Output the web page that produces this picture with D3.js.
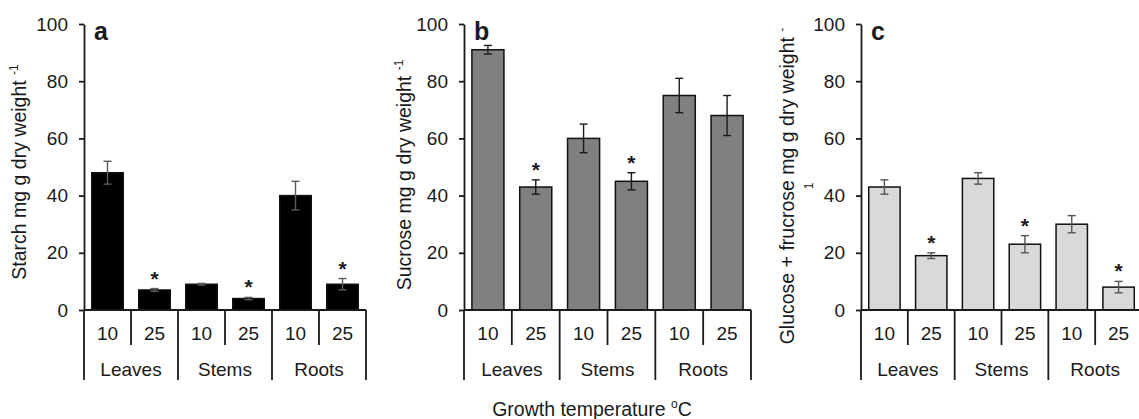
<!DOCTYPE html>
<html>
<head>
<meta charset="utf-8">
<script src="https://cdn.jsdelivr.net/npm/d3@7.9.0/dist/d3.min.js"></script>
<style>
  body { margin: 0; background: #fff; }
  svg text { font-family: "Liberation Sans", Arial, sans-serif; fill: #1a1a1a; }
</style>
</head>
<body>
<svg id="chart" width="1139" height="419"></svg>
<script>
// data
const organs = ['Leaves', 'Stems', 'Roots'];
const temps = ['10', '25'];
const yTicks = [0, 20, 40, 60, 80, 100];

const starchMeans = [48, 7, 9, 4, 40, 9];
const starchErrors = [4, 0.5, 0.3, 0.4, 5, 2];
const starchStars = [false, true, false, true, false, true];

const sucroseMeans = [91, 43, 60, 45, 75, 68];
const sucroseErrors = [1.5, 2.5, 5, 3, 6, 7];
const sucroseStars = [false, true, false, true, false, false];

const hexoseMeans = [43, 19, 46, 23, 30, 8];
const hexoseErrors = [2.5, 1, 2, 3, 3, 2];
const hexoseStars = [false, true, false, true, false, true];

const svg = d3.select('#chart');
const yTop = 24, yBottom = 310;
const y = d3.scaleLinear().domain([0, 100]).range([yBottom, yTop]);

// one band per organ/temperature pair
let keys = [];
organs.forEach(o => temps.forEach(t => keys.push(o + '-' + t)));

function drawPanel(p) {
  let g = svg.append('g');
  let x = d3.scaleBand().domain(keys).range([p.x0, p.x1])
    .paddingInner(0.33).paddingOuter(0.165);
  let step = x.step();

  // bars
  g.selectAll('rect.bar')
    .data(p.means)
    .join('rect')
    .attr('x', (d, i) => x(keys[i]))
    .attr('y', d => y(d))
    .attr('width', x.bandwidth())
    .attr('height', d => y(0) - y(d))
    .attr('fill', p.fill)
    .attr('stroke', '#111')
    .attr('stroke-width', 1.5);

  // error bars
  p.means.forEach((m, i) => {
    let cx = x(keys[i]) + x.bandwidth() / 2;
    let e = p.errors[i];
    let eg = g.append('g').attr('stroke', p.errColor).attr('stroke-width', 1.4);
    eg.append('line').attr('x1', cx).attr('x2', cx).attr('y1', y(m - e)).attr('y2', y(m + e));
    eg.append('line').attr('x1', cx - 4).attr('x2', cx + 4).attr('y1', y(m - e)).attr('y2', y(m - e));
    eg.append('line').attr('x1', cx - 4).attr('x2', cx + 4).attr('y1', y(m + e)).attr('y2', y(m + e));
    if (p.stars[i]) {
      g.append('text')
        .attr('x', cx).attr('y', y(m + e) - 3)
        .attr('text-anchor', 'middle')
        .attr('font-size', 21)
        .attr('font-weight', 'bold')
        .text('*');
    }
  });

  // y axis
  let yAxis = g.append('g')
    .attr('transform', `translate(${p.x0},0)`)
    .call(d3.axisLeft(y).tickValues(yTicks).tickSize(5).tickSizeOuter(0).tickPadding(11));
  yAxis.selectAll('path, line').attr('stroke', '#1a1a1a').attr('stroke-width', 1.8);
  yAxis.selectAll('text').attr('font-size', 19).attr('font-family', '"Liberation Sans", Arial, sans-serif').attr('fill', '#1a1a1a');

  // x axis baseline and category dividers
  let lines = g.append('g').attr('stroke', '#1a1a1a').attr('stroke-width', 1.8);
  lines.append('line').attr('x1', p.x0).attr('x2', p.x1).attr('y1', yBottom).attr('y2', yBottom);
  for (let i = 0; i <= keys.length; i++) {
    let bx = p.x0 + i * step;
    let bottom = i % 2 === 0 ? 380 : 345;
    lines.append('line').attr('x1', bx).attr('x2', bx).attr('y1', yBottom).attr('y2', bottom);
  }

  // temperature labels
  keys.forEach((k, i) => {
    g.append('text')
      .attr('x', x(k) + x.bandwidth() / 2).attr('y', 340)
      .attr('text-anchor', 'middle').attr('font-size', 19)
      .text(temps[i % 2]);
  });
  // organ labels
  organs.forEach((o, j) => {
    g.append('text')
      .attr('x', p.x0 + step * (2 * j + 1)).attr('y', 376)
      .attr('text-anchor', 'middle').attr('font-size', 19)
      .text(o);
  });

  // panel letter
  g.append('text')
    .attr('x', p.x0 + 10).attr('y', 40)
    .attr('font-size', 25).attr('font-weight', 'bold')
    .text(p.letter);

  // y label
  let lab = g.append('text')
    .attr('transform', `translate(${p.labelX},${p.labelY}) rotate(-90)`)
    .attr('text-anchor', 'middle')
    .attr('dy', '0.35em')
    .attr('font-size', 19.5);
  lab.append('tspan').text(p.label + ' ');
  lab.append('tspan').attr('font-size', 12).attr('dy', -8).text(p.sup);
  if (p.secondLine) {
    g.append('text')
      .attr('transform', `translate(${p.labelX + 22},${p.labelY}) rotate(-90)`)
      .attr('text-anchor', 'middle')
      .attr('dy', '0.35em')
      .attr('font-size', 12)
      .text(p.secondLine);
  }
}

drawPanel({
  x0: 84, x1: 366, letter: 'a', fill: '#000', errColor: '#5a5a5a',
  means: starchMeans, errors: starchErrors, stars: starchStars,
  label: 'Starch mg g dry weight', sup: '-1', labelX: 19, labelY: 172
});
drawPanel({
  x0: 464, x1: 751, letter: 'b', fill: '#808080', errColor: '#1a1a1a',
  means: sucroseMeans, errors: sucroseErrors, stars: sucroseStars,
  label: 'Sucrose mg g dry weight', sup: '-1', labelX: 404, labelY: 175
});
drawPanel({
  x0: 861, x1: 1142, letter: 'c', fill: '#d9d9d9', errColor: '#555',
  means: hexoseMeans, errors: hexoseErrors, stars: hexoseStars,
  label: 'Glucose + frucrose mg g dry weight', sup: '-', secondLine: '1', labelX: 787, labelY: 186
});

// shared x title
let xt = svg.append('text')
  .attr('x', 592).attr('y', 416)
  .attr('text-anchor', 'middle')
  .attr('font-size', 19.5);
xt.append('tspan').text('Growth temperature ');
xt.append('tspan').attr('font-size', 12).attr('dy', -8).text('o');
xt.append('tspan').attr('dy', 8).text('C');
</script>
</body>
</html>
